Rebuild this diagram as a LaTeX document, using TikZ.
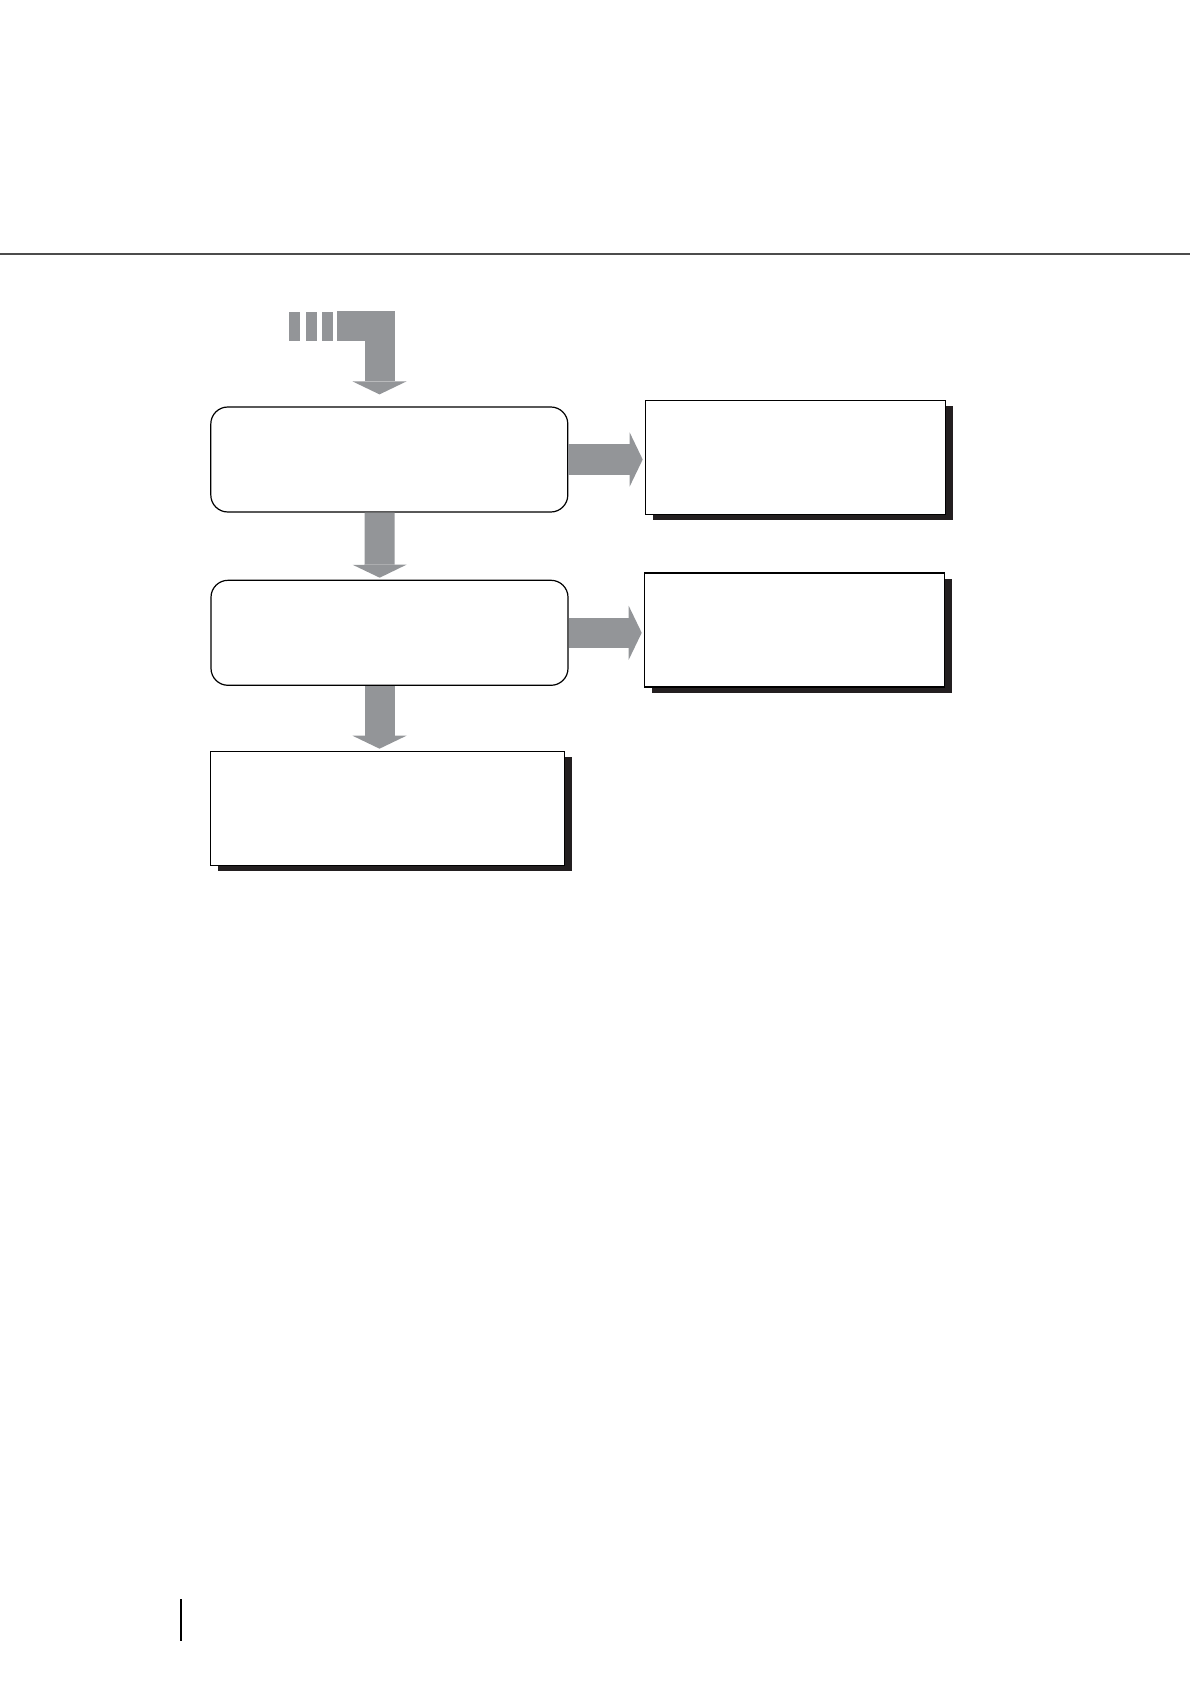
\documentclass[tikz,border=0pt]{standalone}
\usetikzlibrary{arrows.meta,shadows}
\definecolor{flowgray}{HTML}{939598}
\definecolor{shadowblack}{HTML}{231F20}
\begin{document}
\begin{tikzpicture}[x=0.5pt,y=-0.5pt,
        stage/.style={draw,line width=0.6pt,rounded corners=8.5pt,fill=white,minimum width=178.5pt,minimum height=52.5pt,inner sep=0pt},
        result/.style={draw,line width=0.6pt,fill=white,minimum width=150pt,minimum height=57pt,inner sep=0pt,drop shadow={shadow xshift=3.75pt,shadow yshift=-2.75pt,fill=shadowblack,opacity=1}},
        flow/.style={flowgray,line width=15pt,line join=miter,-{Triangle[width=27pt,length=6.5pt,line width=0pt]}}]
        \useasboundingbox (0,0) rectangle (1190,1684);
        \draw[line width=1pt,black!70] (0,254.5) -- (1190,254.5);
        \draw[line width=1pt] (181,1599) -- (181,1641);
        \node[stage] (first) at (389.3,459.5) {};
        \node[stage] (second) at (389.5,632.8) {};
        \node[result,minimum width=177.2pt] (third) at (387.5,808.3) {};
        \node[result] (sideA) at (795.3,457.3) {};
        \node[result] (sideB) at (794.3,630) {};
        \foreach \x in {289.3,306,322}{\fill[flowgray] (\x,312) rectangle ++(10.5,28.7);}
        \coordinate (feed) at (337.3,326.4);
        \draw[flow] (feed) -| ([xshift=-4.9pt,yshift=6pt]first.north);
        \draw[flow] ([xshift=-4.9pt]first.south) -- ([xshift=-4.9pt,yshift=1pt]second.north);
        \draw[flow] ([xshift=-5pt]second.south) -- ([xshift=-4pt,yshift=1pt]third.north);
        \draw[flow,shorten >=1pt] (first.east) -- (first.east -| sideA.west);
        \draw[flow,shorten >=1pt] (second.east) -- (second.east -| sideB.west);
    \end{tikzpicture}
\end{document}
